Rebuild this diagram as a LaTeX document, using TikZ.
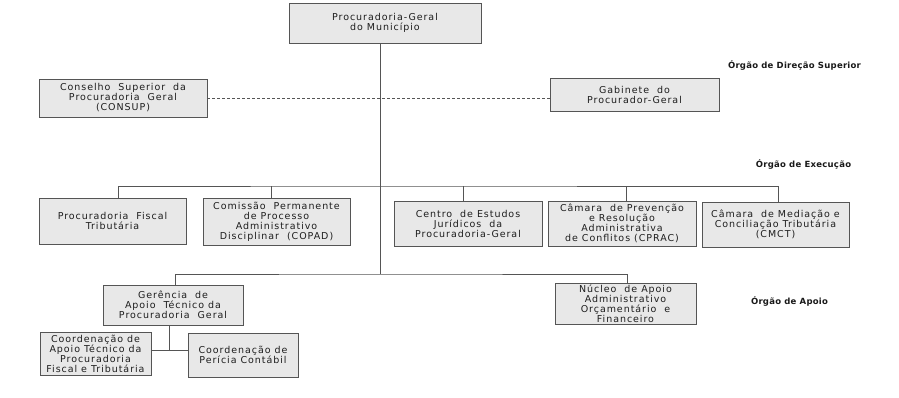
\documentclass[tikz,border=0pt]{standalone}
\usepackage{fontspec}
\newfontfamily\boxfont[LetterSpace=10]{DejaVu Sans}
\newfontfamily\labfont[LetterSpace=3]{DejaVu Sans Bold}
\definecolor{boxfill}{HTML}{E8E8E8}
\definecolor{edge}{HTML}{555555}
\definecolor{txt}{HTML}{1E1E1E}
\begin{document}
\begin{tikzpicture}[x=1pt,y=-1pt,
  orgbox/.style={draw=edge, line width=0.9pt, fill=boxfill, inner sep=0pt, align=center,
    text=txt, font=\boxfont\fontsize{9.5}{10}\selectfont},
  conn/.style={draw=edge, line width=0.9pt},
  lvl/.style={font=\labfont\fontsize{8.5}{10}\selectfont, text=black!90}]
\useasboundingbox[fill=white] (0,0) rectangle (899,397);

\node[orgbox, minimum width=192pt, minimum height=40pt] (pgm) at (385,23) {Procuradoria-Geral\\do Município};
\node[orgbox, minimum width=168pt, minimum height=38pt] (consup) at (123,98) {Conselho\ \ Superior\ \ da\\Procuradoria\ \ Geral\\(CONSUP)};
\node[orgbox, minimum width=169pt, minimum height=33pt] (gab) at (634.5,94.5) {Gabinete\ \ do\\Procurador-Geral};

\node[orgbox, minimum width=147pt, minimum height=46pt] (pft) at (112.5,221) {Procuradoria\ \ Fiscal\\Tributária};
\node[orgbox, minimum width=147pt, minimum height=47pt] (copad) at (276.5,221.5) {Comissão\ \ Permanente\\de Processo\\Administrativo\\Disciplinar\ \ (COPAD)};
\node[orgbox, minimum width=148pt, minimum height=45pt] (centro) at (468,223.5) {Centro\ \ de Estudos\\Jurídicos\ \ da\\Procuradoria-Geral};
\node[orgbox, minimum width=148pt, minimum height=45pt] (cprac) at (622,223.5) {Câmara\ \ de Prevenção\\e Resolução\\Administrativa\\de Conflitos (CPRAC)};
\node[orgbox, minimum width=147pt, minimum height=45pt] (cmct) at (775.5,224.5) {Câmara\ \ de Mediação e\\Conciliação Tributária\\(CMCT)};

\node[orgbox, minimum width=140pt, minimum height=40pt] (ger) at (173,305) {Gerência\ \ de\\Apoio\ \ Técnico da\\Procuradoria\ \ Geral};
\node[orgbox, minimum width=141pt, minimum height=41pt] (nucleo) at (625.5,303.5) {Núcleo\ \ de Apoio\\Administrativo\\Orçamentário\ \ e\\Financeiro};

\node[orgbox, minimum width=111pt, minimum height=43pt] (catpft) at (95.5,353.5) {Coordenação de\\Apoio Técnico da\\Procuradoria\\Fiscal e Tributária};
\node[orgbox, minimum width=110pt, minimum height=44pt] (cpc) at (243,355) {Coordenação de\\Perícia Contábil};

\node[lvl] (l1) at (794.5,65) {Órgão de Direção Superior};
\node[lvl] (l2) at (803.5,164) {Órgão de Execução};
\node[lvl] (l3) at (789.5,301) {Órgão de Apoio};

\coordinate (ex) at (380,186);
\coordinate (ap) at (380,274);
\coordinate (sj) at (169.7,350);

% main trunk
\draw[conn] (pgm.south -| ap) -- (ap);
% dashed advisory line
\draw[conn, dashed, dash pattern=on 3pt off 2pt, line width=0.6pt] (consup.east) -- (consup.east -| gab.west);
% execution bus
\draw[conn] ([xshift=6.2pt]pft.north) |- (ex) -| ([xshift=2.5pt]cmct.north);
\draw[conn] ([xshift=-5.5pt]copad.north) -- ([xshift=-5.5pt]copad.north |- ex);
\draw[conn] ([xshift=-5pt]centro.north) -- ([xshift=-5pt]centro.north |- ex);
\draw[conn] ([xshift=4.7pt]cprac.north) -- ([xshift=4.7pt]cprac.north |- ex);
% apoio bus
\draw[conn] ([xshift=2pt]ger.north) |- (ap) -| ([xshift=1.5pt]nucleo.north);
% gerencia subordinates
\draw[conn] ([xshift=-3.3pt]ger.south) -- (sj);
\draw[conn] (catpft.east |- sj) -- (cpc.west |- sj);
\end{tikzpicture}
\end{document}
